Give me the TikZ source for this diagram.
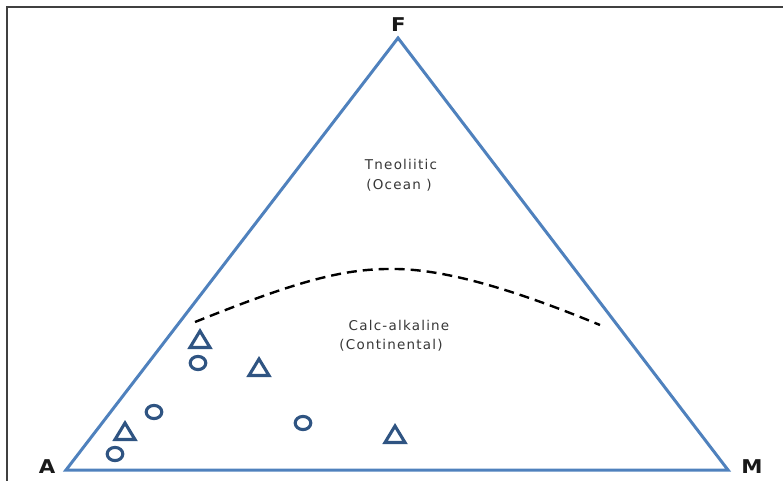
\documentclass[tikz,border=0pt]{standalone}
\usepackage{fontspec}
\setmainfont{DejaVu Sans}
\newfontfamily\lblfont[FakeStretch=1.12]{DejaVu Sans}
\newfontfamily\txtfont[LetterSpace=9]{DejaVu Sans}
\definecolor{sidecol}{RGB}{79,129,189}
\definecolor{mkcol}{RGB}{47,84,130}
\definecolor{txtcol}{RGB}{55,55,55}
\begin{document}
\begin{tikzpicture}[x=1pt,y=-1pt,
  vlabel/.style={font=\lblfont\bfseries\fontsize{19}{19}\selectfont, inner sep=0pt, text=black!90},
  region/.style={font=\txtfont\fontsize{13.5}{15}\selectfont, text=txtcol, align=center, inner sep=0pt},
  divide/.style={draw=black, line width=2.4pt, dash pattern=on 10pt off 6pt},
  tri/.pic={\draw[line width=3.1pt, mkcol, line join=miter] (-10,7.5) -- (0,-9) -- (10,7.5) -- cycle;},
  circ/.pic={\draw[line width=3.1pt, mkcol] (0,0) ellipse (7.8 and 6.6);}
]
\useasboundingbox (0,0) rectangle (783,481);
% frame
\draw[line width=2pt, black!75] (7,490) -- (7,7) -- (790,7);
% triangle vertices
\coordinate (vA) at (66,470);
\coordinate (vM) at (728,470);
\coordinate (vF) at (398,38);
\draw[line width=3pt, sidecol, line join=miter] (vA) -- (vF) -- (vM) -- cycle;
% labels
\node[vlabel] (lF) at (398.5,24.5) {F};
\node[vlabel] (lA) at (47,466.5) {A};
\node[vlabel] (lM) at (752,466.5) {M};
% region texts
\node[region] (t1) at (401,164) {Tneoliitic};
\node[region] (t2) at (399,185) {(Ocean )};
\node[region] (t3) at (399,325) {Calc-alkaline};
\node[region] (t4) at (391,345) {(Continental)};
% dashed boundary
\coordinate (d0) at (195,322);
\coordinate (d1) at (397,269);
\coordinate (d2) at (600,325);
\draw[divide] (d0) .. controls (300,280) and (345,268) .. (d1) .. controls (450,270) and (520,292) .. (d2);
% markers
\pic at (200,340) {tri};
\pic at (198,363) {circ};
\pic at (259,368) {tri};
\pic at (154,412) {circ};
\pic at (125,432) {tri};
\pic at (115,454) {circ};
\pic at (303,423) {circ};
\pic at (395,435) {tri};
\end{tikzpicture}
\end{document}
